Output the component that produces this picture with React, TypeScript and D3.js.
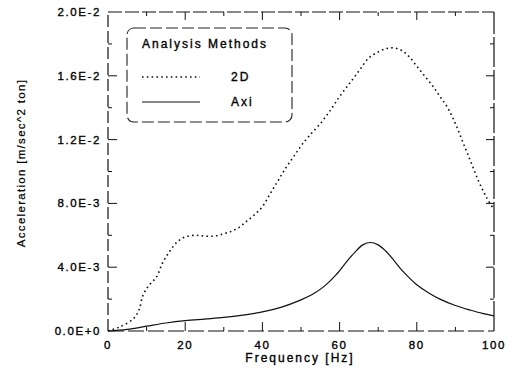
import React from 'react';
import * as d3 from 'd3';

// frequency [Hz] and acceleration (x1e-3)
const freq2D = [0, 3, 6.5, 8, 9, 10.4, 12.6, 14.2, 16, 18, 20, 22.5, 25, 27.5, 30, 32, 34, 36, 38, 40, 42, 44, 46, 48, 50, 52, 55, 57.5, 60, 62.5, 65, 67.5, 70, 72, 74, 76, 78, 80, 82, 84, 86, 88, 90, 92, 94, 96, 98, 100];
const acc2D = [0, 0.25, 0.75, 1.3, 2.2, 2.8, 3.4, 4.3, 5.0, 5.6, 5.9, 6.0, 5.95, 5.95, 6.1, 6.25, 6.5, 6.9, 7.3, 7.8, 8.6, 9.4, 10.2, 10.9, 11.6, 12.2, 13.0, 13.8, 14.7, 15.5, 16.3, 17.1, 17.5, 17.7, 17.75, 17.6, 17.2, 16.6, 16.0, 15.4, 14.7, 14.0, 13.0, 11.8, 10.6, 9.4, 8.4, 7.6];

const freqAxi = [0, 5, 10, 15, 20, 25, 30, 35, 40, 45, 50, 53, 56, 59, 62, 64, 66, 68, 70, 72, 74, 76, 78, 80, 83, 86, 90, 94, 97, 100];
const accAxi = [0, 0.1, 0.3, 0.5, 0.65, 0.75, 0.85, 1.0, 1.2, 1.5, 1.95, 2.3, 2.8, 3.5, 4.4, 4.95, 5.4, 5.55, 5.4, 5.0, 4.45, 3.85, 3.35, 2.9, 2.4, 2.0, 1.6, 1.3, 1.1, 0.95];

const xTicks = [0, 20, 40, 60, 80, 100];
const yTicks = [0, 0.004, 0.008, 0.012, 0.016, 0.02];
const yTickLabels = ['0.0E+0', '4.0E-3', '8.0E-3', '1.2E-2', '1.6E-2', '2.0E-2'];
const legendLabels = ['2D', 'Axi'];

const W = 516;
const H = 371;
const font = 'Liberation Sans, Arial, sans-serif';

export default function App() {
  const x = d3.scaleLinear().domain([0, 100]).range([108, 494]);
  const y = d3.scaleLinear().domain([0, 0.02]).range([331, 12]);

  const line = d3
    .line<[number, number]>()
    .x(d => x(d[0]))
    .y(d => y(d[1] / 1000))
    .curve(d3.curveCatmullRom.alpha(0.5));

  const path2D = line(freq2D.map((f, i) => [f, acc2D[i]]));
  const pathAxi = line(freqAxi.map((f, i) => [f, accAxi[i]]));

  const [x0, x1] = x.range();
  const [y0, y1] = y.range();
  const minorX = d3.range(10, 100, 20);
  const minorY = d3.range(0.002, 0.02, 0.004);

  // scanned text looks a little heavier than plain regular weight
  const textStyle = { stroke: '#000', strokeWidth: 0.35 };

  return (
    <svg width={W} height={H} style={{ position: 'absolute', left: 0, top: 0, background: '#fff' }}>
      {/* frame */}
      <g stroke="#111" strokeWidth={1.2} fill="none">
        <line x1={x0} x2={x1} y1={y1} y2={y1} strokeDasharray="14 3" />
        <line x1={x0} x2={x1} y1={y0} y2={y0} strokeDasharray="16 4" />
        <line x1={x0} x2={x0} y1={y0} y2={y1} strokeDasharray="12 4" />
        <line x1={x1} x2={x1} y1={y0} y2={y1} strokeDasharray="30 3" />
      </g>

      {/* ticks */}
      <g stroke="#111" strokeWidth={1}>
        {xTicks.slice(1, -1).map(t => (
          <g key={'xt' + t}>
            <line x1={x(t)} x2={x(t)} y1={y0} y2={y0 - 9} />
            <line x1={x(t)} x2={x(t)} y1={y1} y2={y1 + 8} />
          </g>
        ))}
        {minorX.map(t => (
          <g key={'xm' + t}>
            <line x1={x(t)} x2={x(t)} y1={y0} y2={y0 - 4} />
            <line x1={x(t)} x2={x(t)} y1={y1} y2={y1 + 4} />
          </g>
        ))}
        {yTicks.slice(1, -1).map(t => (
          <g key={'yt' + t}>
            <line x1={x0} x2={x0 + 9} y1={y(t)} y2={y(t)} />
            <line x1={x1} x2={x1 - 8} y1={y(t)} y2={y(t)} />
          </g>
        ))}
        {minorY.map(t => (
          <g key={'ym' + t}>
            <line x1={x0} x2={x0 + 4} y1={y(t)} y2={y(t)} />
            <line x1={x1} x2={x1 - 4} y1={y(t)} y2={y(t)} />
          </g>
        ))}
      </g>

      {/* tick labels */}
      <g fontFamily={font} fontSize={11.5} fill="#000" letterSpacing={1.6} style={textStyle}>
        {xTicks.map(t => (
          <text key={'xl' + t} x={x(t)} y={349} textAnchor="middle">{t}</text>
        ))}
        {yTicks.map((t, i) => (
          <text key={'yl' + t} x={101} y={y(t) + 4} textAnchor="end">{yTickLabels[i]}</text>
        ))}
      </g>

      {/* axis titles */}
      <text x={300} y={362} textAnchor="middle" fontFamily={font} fontSize={12} letterSpacing={2} fill="#000" style={textStyle}>
        Frequency [Hz]
      </text>
      <text
        transform="translate(25,163) rotate(-90)"
        textAnchor="middle"
        fontFamily={font}
        fontSize={11.5}
        letterSpacing={1.3}
        fill="#000"
        style={{ stroke: '#000', strokeWidth: 0.2 }}
      >
        Acceleration [m/sec^2 ton]
      </text>

      {/* series */}
      <path d={path2D ?? ''} fill="none" stroke="#111" strokeWidth={1.6} strokeDasharray="1.6 3.2" />
      <path d={pathAxi ?? ''} fill="none" stroke="#111" strokeWidth={1.2} />

      {/* legend */}
      <rect x={127} y={28} width={165} height={94} rx={7} fill="#fff" stroke="#222" strokeWidth={1.1} strokeDasharray="12 4" />
      <g fontFamily={font} fontSize={12} letterSpacing={2} fill="#000" style={textStyle}>
        <text x={142} y={48}>Analysis Methods</text>
        <text x={231} y={81}>{legendLabels[0]}</text>
        <text x={231} y={106}>{legendLabels[1]}</text>
      </g>
      <line x1={142} x2={200} y1={77} y2={77} stroke="#111" strokeWidth={1.6} strokeDasharray="1.6 3.2" />
      <line x1={142} x2={200} y1={102} y2={102} stroke="#111" strokeWidth={1.2} />
    </svg>
  );
}
